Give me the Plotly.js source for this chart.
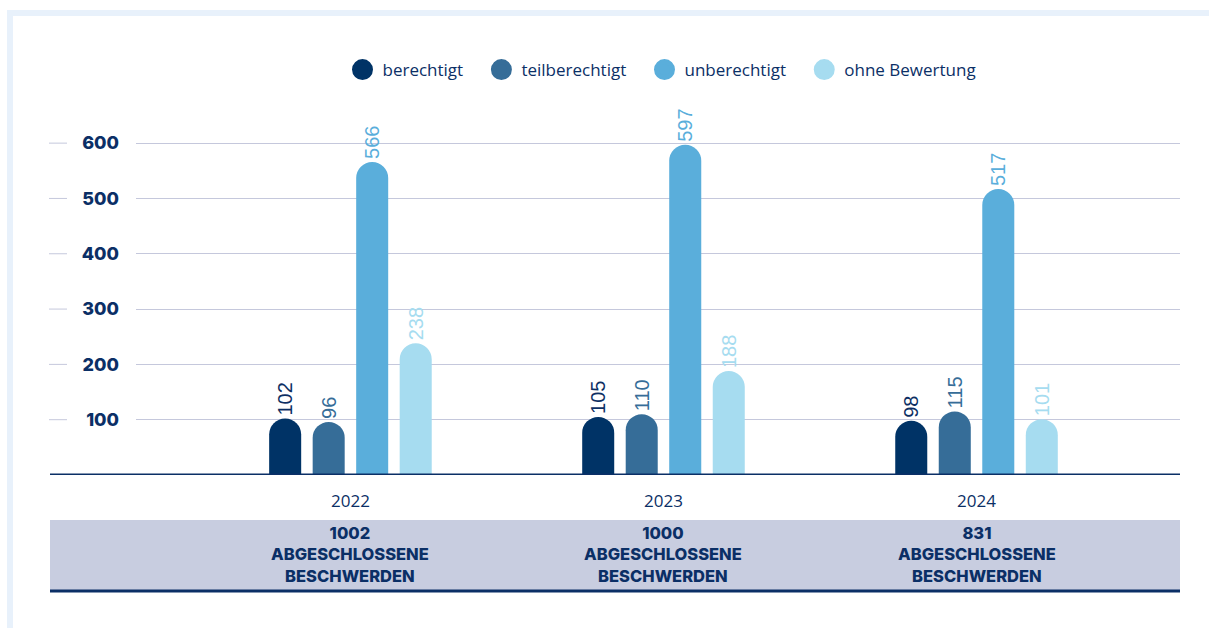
<!DOCTYPE html>
<html>
<head>
<meta charset="utf-8">
<script src="https://cdn.plot.ly/plotly-3.0.1.min.js"></script>
<style>
  html, body { margin: 0; padding: 0; background: #fff; }
  #chart { width: 1209px; height: 628px; }
</style>
</head>
<body>
<div id="chart"></div>
<script>
const years = ["2022", "2023", "2024"];
const berechtigt = [102, 105, 98];
const teilberechtigt = [96, 110, 115];
const unberechtigt = [566, 597, 517];
const ohneBewertung = [238, 188, 101];
const totals = [1002, 1000, 831];
const yTicks = [100, 200, 300, 400, 500, 600];

const seriesNames = ["berechtigt", "teilberechtigt", "unberechtigt", "ohne Bewertung"];
const seriesValues = [berechtigt, teilberechtigt, unberechtigt, ohneBewertung];
const barColors = ["#003366", "#366d98", "#5aaedb", "#a6dcf0"];
const labelColors = ["#0d2f63", "#366d98", "#5aaedb", "#a6dcf0"];

const NAVY = "#0b2f66";
const W = 1209, H = 628;
const M = { l: 136, r: 29, t: 100, b: 153 };
const pw = W - M.l - M.r, ph = H - M.t - M.b;
const px = x => (x - M.l) / pw;          // pixel -> paper x
const py = y => (H - M.b - y) / ph;      // pixel -> paper y

const bars = seriesValues.map((vals, i) => ({
  type: "bar",
  x: years,
  y: vals,
  name: seriesNames[i],
  showlegend: false,
  marker: { color: barColors[i], cornerradius: "50%" },
  text: vals.map(String),
  textposition: "outside",
  textangle: -90,
  constraintext: "none",
  cliponaxis: false,
  outsidetextfont: { family: "Liberation Sans, Arial, sans-serif", size: 20, color: labelColors[i] },
  hoverinfo: "skip"
}));

// legend entries drawn as round markers; nbsp pads the gap between entries
const legendItems = seriesNames.map((n, i) => ({
  type: "scatter",
  mode: "markers",
  x: [null],
  y: [null],
  name: i < seriesNames.length - 1 ? n + "\u00a0\u00a0\u00a0" : n,
  marker: { color: barColors[i], size: 16, symbol: "circle", line: { color: barColors[i], width: 5 } }
}));

const shapes = [];
// light blue frame
shapes.push({ type: "rect", xref: "paper", yref: "paper", x0: px(7), x1: px(13), y0: py(628), y1: py(10),
  fillcolor: "#e8f1fb", line: { width: 0 }, layer: "below" });
shapes.push({ type: "rect", xref: "paper", yref: "paper", x0: px(7), x1: px(1209), y0: py(16), y1: py(10),
  fillcolor: "#e8f1fb", line: { width: 0 }, layer: "below" });
// tick dashes left of the labels
yTicks.forEach(v => shapes.push({ type: "line", xref: "paper", yref: "y", x0: px(49), x1: px(67), y0: v, y1: v,
  line: { color: "#c5c8dc", width: 1 } }));
// summary band
shapes.push({ type: "rect", xref: "paper", yref: "paper", x0: px(50), x1: 1, y0: py(590), y1: py(520),
  fillcolor: "#c8cde0", line: { width: 0 }, layer: "below" });
shapes.push({ type: "line", xref: "paper", yref: "paper", x0: px(50), x1: 1, y0: py(591), y1: py(591),
  line: { color: NAVY, width: 3 } });
// base line
shapes.push({ type: "line", xref: "paper", yref: "y", x0: px(50), x1: 1, y0: 0, y1: 0,
  line: { color: NAVY, width: 3 } });

const annotations = years.map((yr, i) => ({
  xref: "x", yref: "paper", x: i, y: py(554), yanchor: "middle", showarrow: false,
  text: totals[i] + "<br>ABGESCHLOSSENE<br>BESCHWERDEN",
  font: { family: "Inter, sans-serif", size: 16.5, color: NAVY, weight: 800 },
  align: "center"
}));

const layout = {
  width: W, height: H,
  margin: M,
  paper_bgcolor: "#ffffff",
  plot_bgcolor: "#ffffff",
  barmode: "group",
  bargap: 0.444,
  bargroupgap: 0.264,
  showlegend: true,
  legend: {
    orientation: "h", x: px(662), xanchor: "center", y: py(70), yanchor: "middle",
    font: { family: "Open Sans, sans-serif", size: 17, color: NAVY },
    itemclick: false, itemdoubleclick: false
  },
  xaxis: {
    type: "category",
    range: [-0.685, 2.65],
    showgrid: false, zeroline: false, showline: false,
    ticks: "",
    ticklabelstandoff: 14,
    tickfont: { family: "Open Sans, sans-serif", size: 17, color: NAVY },
    fixedrange: true
  },
  yaxis: {
    range: [0, 678],
    tickvals: yTicks,
    showgrid: true, gridcolor: "#c5c8dc", gridwidth: 1,
    zeroline: false, showline: false, ticks: "",
    ticklabelstandoff: 16,
    tickfont: { family: "Inter, sans-serif", size: 18, color: NAVY, weight: 800 },
    fixedrange: true
  },
  shapes: shapes,
  annotations: annotations
};

Plotly.newPlot("chart", bars.concat(legendItems), layout, { displayModeBar: false, staticPlot: true });
</script>
</body>
</html>
